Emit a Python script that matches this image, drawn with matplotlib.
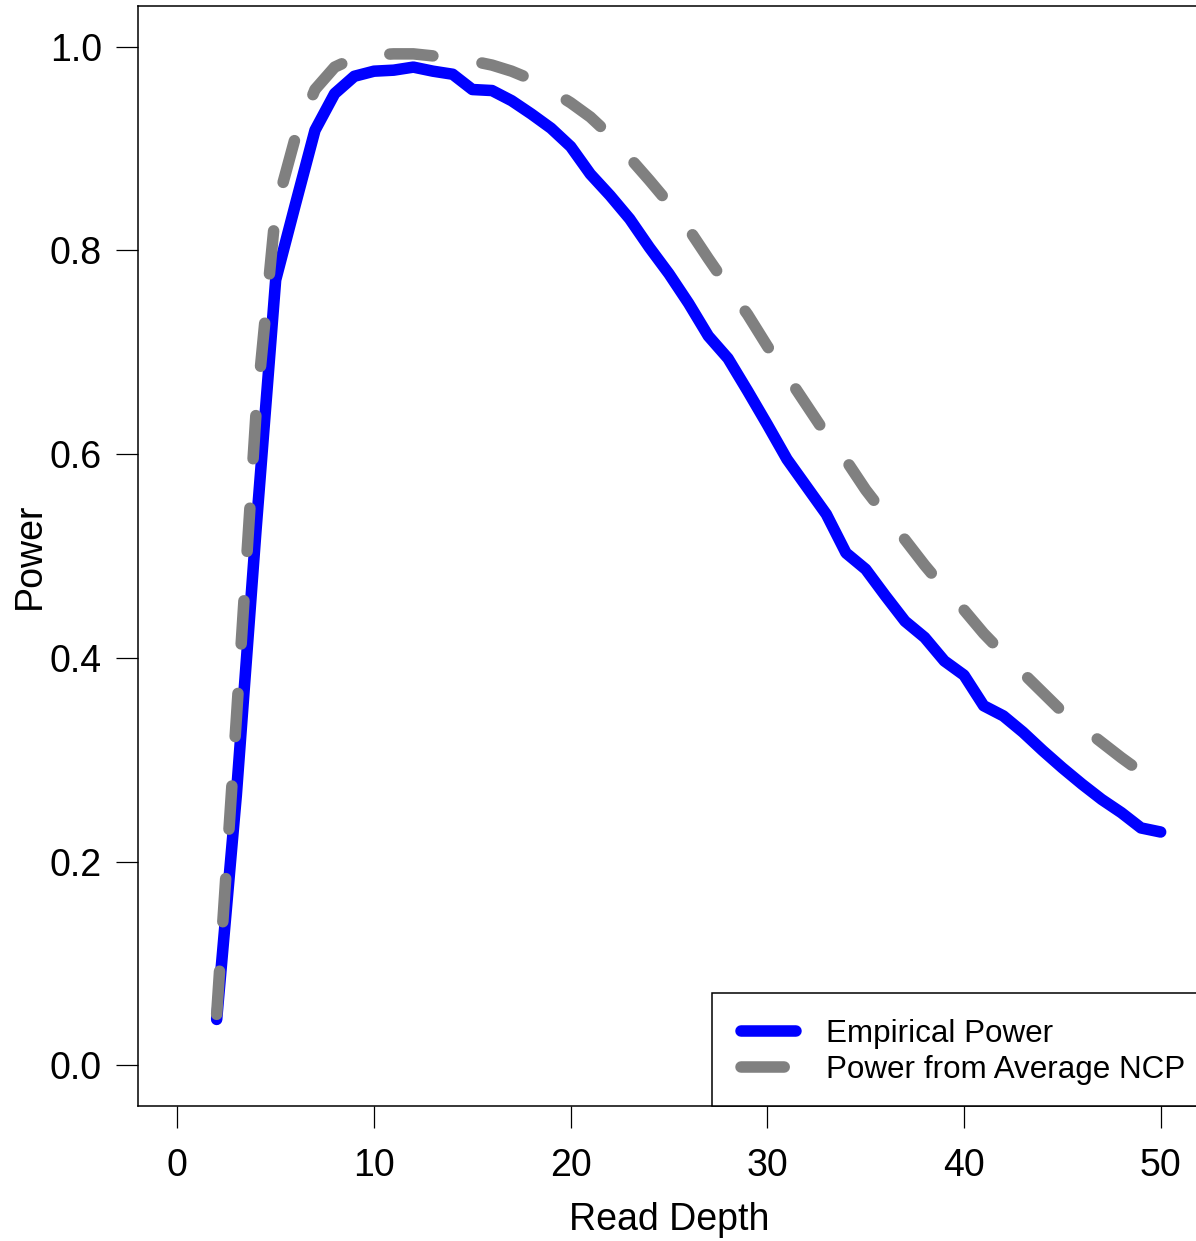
import matplotlib.pyplot as plt
from matplotlib.patches import Rectangle

plt.rcParams['font.family'] = ['Liberation Sans', 'DejaVu Sans']

# read depth 2..50
depth = list(range(2, 51))

empirical_power = [
    0.045, 0.265, 0.525, 0.771, 0.845, 0.918, 0.954, 0.971, 0.976, 0.977,
    0.980, 0.976, 0.973, 0.958, 0.957, 0.947, 0.934, 0.920, 0.902, 0.875,
    0.854, 0.831, 0.803, 0.777, 0.748, 0.716, 0.694, 0.662, 0.629, 0.595,
    0.568, 0.541, 0.503, 0.487, 0.461, 0.436, 0.420, 0.397, 0.383, 0.353,
    0.343, 0.327, 0.309, 0.292, 0.276, 0.261, 0.248, 0.233, 0.229,
]

ncp_power = [
    0.050, 0.340, 0.640, 0.840, 0.911, 0.958, 0.980, 0.989, 0.992, 0.993,
    0.993, 0.991, 0.989, 0.986, 0.982, 0.976, 0.968, 0.957, 0.945, 0.931,
    0.913, 0.891, 0.869, 0.846, 0.821, 0.792, 0.764, 0.737, 0.706, 0.677,
    0.648, 0.619, 0.594, 0.565, 0.540, 0.516, 0.491, 0.468, 0.447, 0.424,
    0.404, 0.385, 0.366, 0.347, 0.332, 0.317, 0.302, 0.288, 0.275,
]

x_ticks = [0, 10, 20, 30, 40, 50]
y_ticks = [0.0, 0.2, 0.4, 0.6, 0.8, 1.0]

fig = plt.figure(figsize=(11.96, 12.41), dpi=100)
ax = fig.add_axes([138 / 1196, 1 - 1106 / 1241, 1062 / 1196, 1100 / 1241])

lw = 8.3
ax.plot(depth, empirical_power, color='#0000FF', lw=lw,
        solid_capstyle='round', solid_joinstyle='round', label='Empirical Power')
ax.plot(depth, ncp_power, color='#808080', lw=lw, linestyle=(0, (3.75, 4.3)),
        dash_capstyle='round', dash_joinstyle='round',
        label='Power from Average NCP')

ax.set_xlim(-2, 52)
ax.set_ylim(-0.04, 1.04)
ax.set_xticks(x_ticks)
ax.set_yticks(y_ticks)
ax.set_xticklabels([str(t) for t in x_ticks])
ax.set_yticklabels([f'{t:.1f}' for t in y_ticks])
ax.tick_params(axis='both', labelsize=27, length=16, width=0.9, direction='out')
ax.tick_params(axis='x', pad=14)
ax.tick_params(axis='y', pad=10)
for s in ax.spines.values():
    s.set_linewidth(1.1)
    s.set_color('black')

ax.set_xlabel('Read Depth', fontsize=27, labelpad=13)
ax.set_ylabel('Power', fontsize=27, labelpad=1.5)

# legend box drawn separately so the padding can be matched
box = Rectangle(((712 - 138) / 1062, 0), 0.5, (1106 - 993) / 1100,
                transform=ax.transAxes, facecolor='white', edgecolor='black',
                lw=1.1, zorder=4, clip_on=False)
ax.add_patch(box)
leg = ax.legend(loc='lower right', bbox_to_anchor=(1 + 14 / 1062, -8 / 1100),
                borderaxespad=0, fontsize=22.6, handlelength=1.75,
                handletextpad=0.95, labelspacing=0.18, borderpad=0.92,
                frameon=False)
leg.set_zorder(5)

fig.savefig('out.png', dpi=100)
